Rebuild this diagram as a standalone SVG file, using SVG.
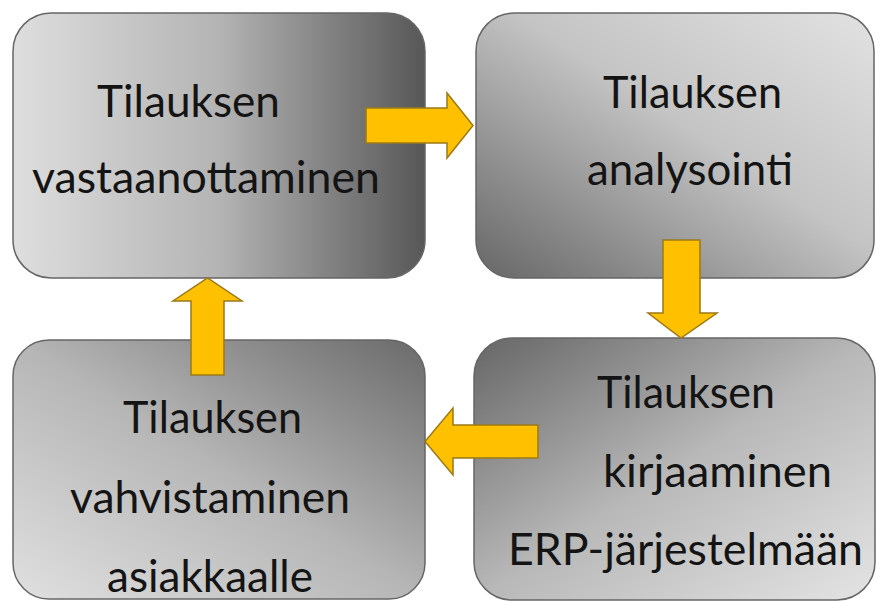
<svg xmlns="http://www.w3.org/2000/svg" width="876" height="601" viewBox="0 0 876 601">
  <style>
    .box { stroke: #666; stroke-width: 1.5; }
    .lbl { font-family: Lato, "Open Sans", "Liberation Sans", sans-serif; font-size: 44px; fill: #141414; }
    .arrow { fill: #FFC000; stroke: #9c7a18; stroke-width: 1.5; stroke-linejoin: miter; }
  </style>
  <defs>
    <linearGradient id="gTL" x1="0" y1="0" x2="1" y2="0">
      <stop offset="0" stop-color="#dedede"/>
      <stop offset="0.5" stop-color="#b4b4b4"/>
      <stop offset="1" stop-color="#575757"/>
    </linearGradient>
    <linearGradient id="gTR" x1="0" y1="1" x2="1" y2="0">
      <stop offset="0" stop-color="#666"/>
      <stop offset="0.55" stop-color="#c4c4c4"/>
      <stop offset="1" stop-color="#e2e2e2"/>
    </linearGradient>
    <linearGradient id="gBL" x1="0" y1="1" x2="1" y2="0">
      <stop offset="0" stop-color="#e0e0e0"/>
      <stop offset="0.5" stop-color="#b6b6b6"/>
      <stop offset="1" stop-color="#6a6a6a"/>
    </linearGradient>
    <linearGradient id="gBR" x1="0" y1="0" x2="1" y2="1">
      <stop offset="0" stop-color="#666"/>
      <stop offset="0.5" stop-color="#b8b8b8"/>
      <stop offset="1" stop-color="#e4e4e4"/>
    </linearGradient>
  </defs>
  <rect width="876" height="601" fill="#fff"/>

  <g id="node-vastaanotto">
    <rect class="box" x="13" y="13" width="412" height="265" rx="38" fill="url(#gTL)"/>
    <text class="lbl" x="97" y="117" textLength="183" lengthAdjust="spacingAndGlyphs">Tilauksen</text>
    <text class="lbl" x="32" y="193" textLength="348" lengthAdjust="spacingAndGlyphs">vastaanottaminen</text>
  </g>

  <g id="node-analysointi">
    <rect class="box" x="476" y="13" width="398" height="265" rx="38" fill="url(#gTR)"/>
    <text class="lbl" x="603" y="108" textLength="179" lengthAdjust="spacingAndGlyphs">Tilauksen</text>
    <text class="lbl" x="587" y="185" textLength="206" lengthAdjust="spacingAndGlyphs">analysointi</text>
  </g>

  <g id="node-kirjaaminen">
    <rect class="box" x="474" y="338" width="401" height="262" rx="38" fill="url(#gBR)"/>
    <text class="lbl" x="597" y="408" textLength="178" lengthAdjust="spacingAndGlyphs">Tilauksen</text>
    <text class="lbl" x="603" y="487" textLength="229" lengthAdjust="spacingAndGlyphs">kirjaaminen</text>
    <text class="lbl" x="508" y="565" textLength="355" lengthAdjust="spacingAndGlyphs">ERP-järjestelmään</text>
  </g>

  <g id="node-vahvistaminen">
    <rect class="box" x="13" y="340" width="412" height="259" rx="36" fill="url(#gBL)"/>
    <text class="lbl" x="123" y="433" textLength="179" lengthAdjust="spacingAndGlyphs">Tilauksen</text>
    <text class="lbl" x="70" y="513" textLength="280" lengthAdjust="spacingAndGlyphs">vahvistaminen</text>
    <text class="lbl" x="107" y="592" textLength="206" lengthAdjust="spacingAndGlyphs">asiakkaalle</text>
  </g>

  <g id="connectors">
    <path class="arrow" d="M366,108 H447 V93 L473,125.5 L447,158 V143 H366 Z"/>
    <path class="arrow" d="M663,240 H700 V313 H717 L681,338 L648,313 H663 Z"/>
    <path class="arrow" d="M538,425 V458 H453 V475 L425,441.5 L453,408 V425 Z"/>
    <path class="arrow" d="M191,375 V301 H173 L207.5,278 L242,301 H224 V375 Z"/>
  </g>
</svg>
